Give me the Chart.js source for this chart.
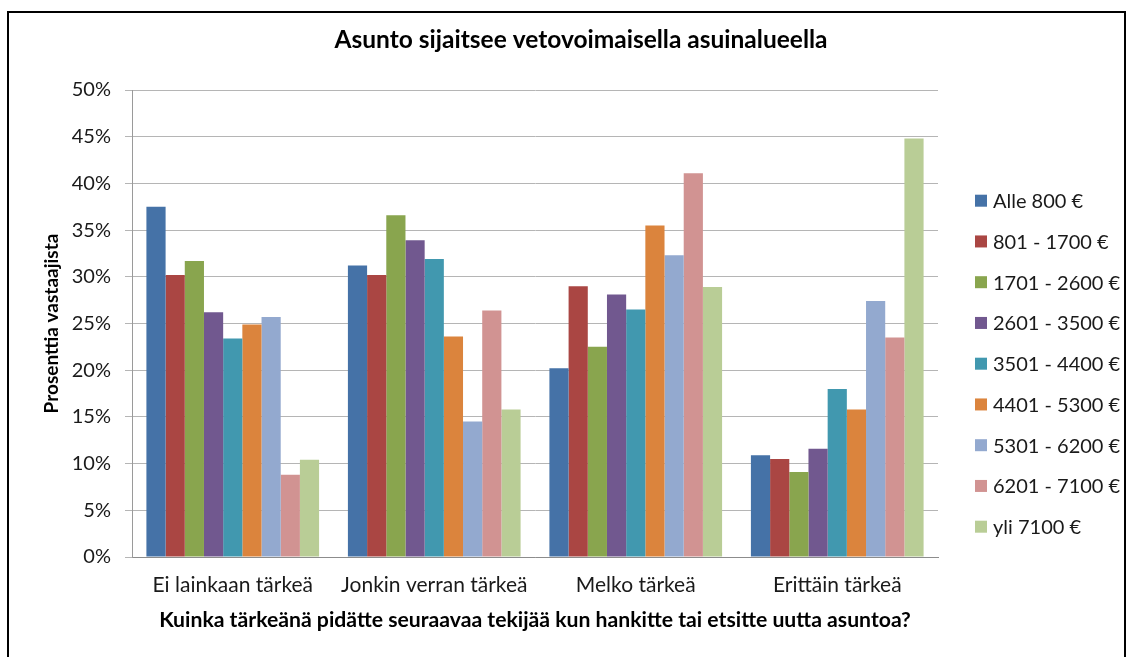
<!DOCTYPE html>
<html><head><meta charset="utf-8">
<script src="https://cdn.jsdelivr.net/npm/chart.js@4.4.0/dist/chart.umd.min.js"></script>
<style>
html,body{margin:0;padding:0;background:#fff;overflow:hidden}
#wrap{position:relative;width:1132px;height:657px}
#frame{position:absolute;left:7px;top:11px;width:1115px;height:700px;border:2px solid #000;border-bottom:none;pointer-events:none}
</style></head><body>
<div id="wrap"><canvas id="c" width="1132" height="657"></canvas><div id="frame"></div></div>
<script>
const chartTitle = 'Asunto sijaitsee vetovoimaisella asuinalueella';
const yAxisTitle = 'Prosenttia vastaajista';
const xAxisTitle = 'Kuinka tärkeänä pidätte seuraavaa tekijää kun hankitte tai etsitte uutta asuntoa?';
const categories = ['Ei lainkaan tärkeä', 'Jonkin verran tärkeä', 'Melko tärkeä', 'Erittäin tärkeä'];
const seriesNames = ['Alle 800 €', '801 - 1700 €', '1701 - 2600 €', '2601 - 3500 €', '3501 - 4400 €', '4401 - 5300 €', '5301 - 6200 €', '6201 - 7100 €', 'yli 7100 €'];
const alle800   = [37.5, 31.2, 20.2, 10.9];
const s801_1700 = [30.2, 30.2, 29.0, 10.5];
const s1701_2600 = [31.7, 36.6, 22.5, 9.1];
const s2601_3500 = [26.2, 33.9, 28.1, 11.6];
const s3501_4400 = [23.4, 31.9, 26.5, 18.0];
const s4401_5300 = [24.9, 23.6, 35.5, 15.8];
const s5301_6200 = [25.7, 14.5, 32.3, 27.4];
const s6201_7100 = [8.8, 26.4, 41.1, 23.5];
const yli7100   = [10.4, 15.8, 28.9, 44.8];
const yTickValues = [0, 5, 10, 15, 20, 25, 30, 35, 40, 45, 50];

const seriesValues = [alle800, s801_1700, s1701_2600, s2601_3500, s3501_4400, s4401_5300, s5301_6200, s6201_7100, yli7100];
const colors = ['#4572A7', '#AA4643', '#89A54E', '#71588F', '#4198AF', '#DB843D', '#93A9CF', '#D19392', '#B9CD96'];

const FONT = 'Lato, "Open Sans", sans-serif';

const sideLegend = {
  id: 'sideLegend',
  afterDraw(chart) {
    const ctx = chart.ctx;
    const x0 = chart.chartArea.right + 37;
    const yStart = chart.chartArea.top + 110.7;
    const step = 40.75;
    ctx.save();
    ctx.font = '20px ' + FONT;
    ctx.textBaseline = 'middle';
    ctx.textAlign = 'left';
    chart.data.datasets.forEach((ds, i) => {
      const y = yStart + i * step;
      ctx.fillStyle = ds.backgroundColor;
      ctx.fillRect(x0, y - 6, 12, 12);
      ctx.fillStyle = '#1a1a1a';
      ctx.fillText(ds.label, x0 + 18, y + 1);
    });
    ctx.restore();
  }
};

new Chart(document.getElementById('c'), {
  type: 'bar',
  data: {
    labels: categories,
    datasets: seriesNames.map((n, i) => ({
      label: n,
      data: seriesValues[i],
      backgroundColor: colors[i],
      borderWidth: 0,
      categoryPercentage: 0.857,
      barPercentage: 1.0
    }))
  },
  options: {
    responsive: false,
    animation: false,
    devicePixelRatio: 1,
    layout: { padding: { left: 30, right: 0, top: 0, bottom: 0 } },
    plugins: {
      legend: { display: false },
      tooltip: { enabled: false },
      title: {
        display: true, text: chartTitle, color: '#000',
        font: { family: FONT, size: 24.5, weight: 'bold' },
        padding: { top: 25, bottom: 35.6 }
      }
    },
    scales: {
      x: {
        grid: { display: false },
        border: { color: '#8c8c8c', width: 1 },
        ticks: { color: '#1a1a1a', font: { family: FONT, size: 21 }, padding: 8 },
        title: { display: true, text: xAxisTitle, color: '#000', font: { family: FONT, size: 21.2, weight: 'bold' }, padding: { top: 0, bottom: 24.4 } },
        afterFit(s) { s.height = 100; }
      },
      y: {
        min: 0, max: 50,
        afterBuildTicks(s) { s.ticks = yTickValues.map(v => ({ value: v })); },
        ticks: { color: '#1a1a1a', font: { family: FONT, size: 20 }, padding: 14, callback: v => v + '%' },
        grid: { color: '#b5b5b5', lineWidth: 1, tickLength: 7, drawTicks: true },
        border: { color: '#9a9a9a', width: 1 },
        title: { display: true, text: yAxisTitle, color: '#000', font: { family: FONT, size: 19, weight: 'bold' }, padding: { top: 10.6, bottom: 0 } },
        afterFit(s) { s.width = 102; }
      },
      yR: {
        type: 'linear', position: 'right', display: true,
        grid: { display: false, drawTicks: false },
        border: { display: false },
        ticks: { display: false },
        afterFit(s) { s.width = 194; }
      }
    }
  },
  plugins: [sideLegend]
});
</script>
</body></html>
